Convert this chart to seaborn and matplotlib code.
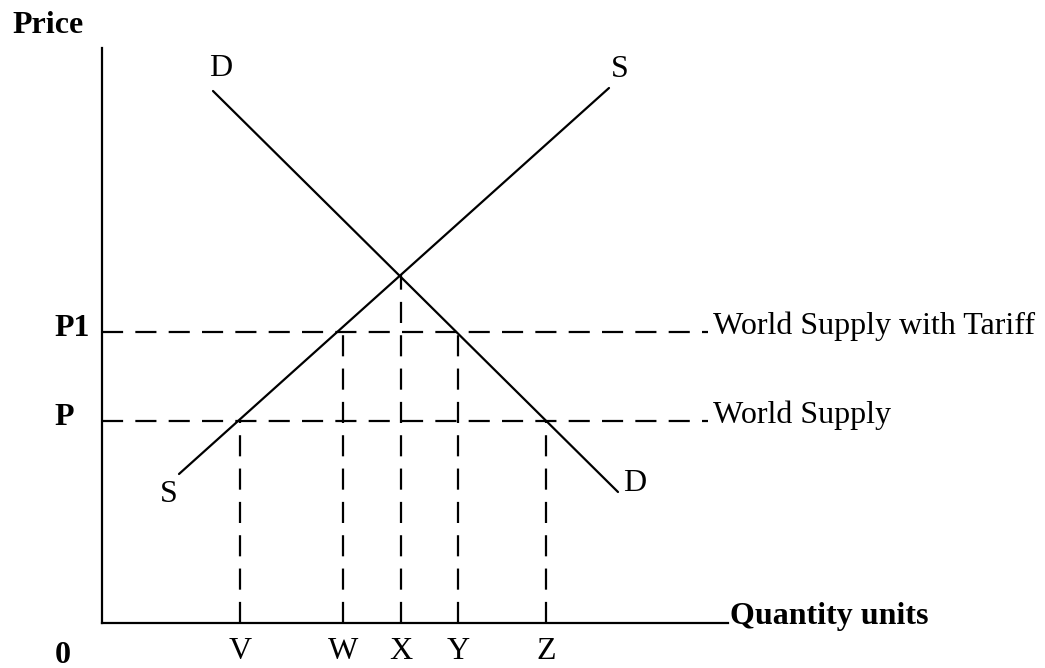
import matplotlib
matplotlib.use('Agg')
import matplotlib.pyplot as plt
import seaborn as sns
import pandas as pd

# ---- data (chart units: quantity on x, price on y) ----
supply_q = [7.7, 50.7]
supply_p = [14.9, 53.5]
demand_q = [11.1, 51.6]
demand_p = [53.2, 13.1]

price_labels = ['P1', 'P']
world_prices = [29.1, 20.2]
world_line_labels = ['World Supply with Tariff', 'World Supply']
world_line_end = 60.6

qty_labels = ['V', 'W', 'X', 'Y', 'Z']
qty_values = [13.8, 24.1, 29.9, 35.6, 44.4]
qty_prices = [20.2, 29.1, 34.8, 29.1, 20.2]

x_max = 62.6
y_max = 57.5

# ---- style ----
sns.set_theme(style='white')
plt.rcParams['font.family'] = ['Liberation Serif', 'DejaVu Serif']
FS = 23

fig = plt.figure(figsize=(10.45, 6.68), dpi=100)
ax = fig.add_axes([102 / 1045, 45 / 668, 626 / 1045, 575 / 668])
ax.set_xlim(0, x_max)
ax.set_ylim(0, y_max)
for side in ['top', 'right']:
    ax.spines[side].set_visible(False)
for side in ['left', 'bottom']:
    ax.spines[side].set_color('black')
    ax.spines[side].set_linewidth(1.6)
ax.set_xticks([])
ax.set_yticks([])
ax.set_facecolor('white')

supply_df = pd.DataFrame({'q': supply_q, 'p': supply_p})
demand_df = pd.DataFrame({'q': demand_q, 'p': demand_p})
sns.lineplot(data=supply_df, x='q', y='p', color='black', lw=1.6, ax=ax, sort=False)
sns.lineplot(data=demand_df, x='q', y='p', color='black', lw=1.6, ax=ax, sort=False)

dash = (0, (9.5, 5.5))
for price in world_prices:
    ax.hlines(price, 0, world_line_end, colors='black', lw=1.6, linestyles=dash)
for q, p in zip(qty_values, qty_prices):
    ax.vlines(q, 0, p, colors='black', lw=1.6, linestyles=dash)

ax.set_xlabel('')
ax.set_ylabel('')

# ---- text ----
kw = dict(fontsize=FS, color='black', clip_on=False)
ax.text(-9.0, 59.0, 'Price', fontweight='bold', ha='left', va='baseline', **kw)
ax.text(-4.7, -4.0, '0', fontweight='bold', ha='left', va='baseline', **kw)
ax.text(62.8, -0.1, 'Quantity units', fontweight='bold', ha='left', va='baseline', **kw)

for lab, price in zip(price_labels, world_prices):
    ax.text(-4.8, price - 0.4, lab, fontweight='bold', ha='left', va='baseline', **kw)
for lab, price in zip(world_line_labels, world_prices):
    ax.text(world_line_end + 0.5, price - 0.2, lab, ha='left', va='baseline', **kw)
for lab, q in zip(qty_labels, qty_values):
    ax.text(q, -3.6, lab, ha='center', va='baseline', **kw)

ax.text(demand_q[0] - 0.4, demand_p[0] + 1.5, 'D', ha='left', va='baseline', **kw)
ax.text(supply_q[1] + 0.2, supply_p[1] + 1.1, 'S', ha='left', va='baseline', **kw)
ax.text(supply_q[0] - 1.9, supply_p[0] - 2.8, 'S', ha='left', va='baseline', **kw)
ax.text(demand_q[1] + 0.5, demand_p[1] + 0.1, 'D', ha='left', va='baseline', **kw)

fig.savefig('out.png', dpi=100, facecolor='white')
